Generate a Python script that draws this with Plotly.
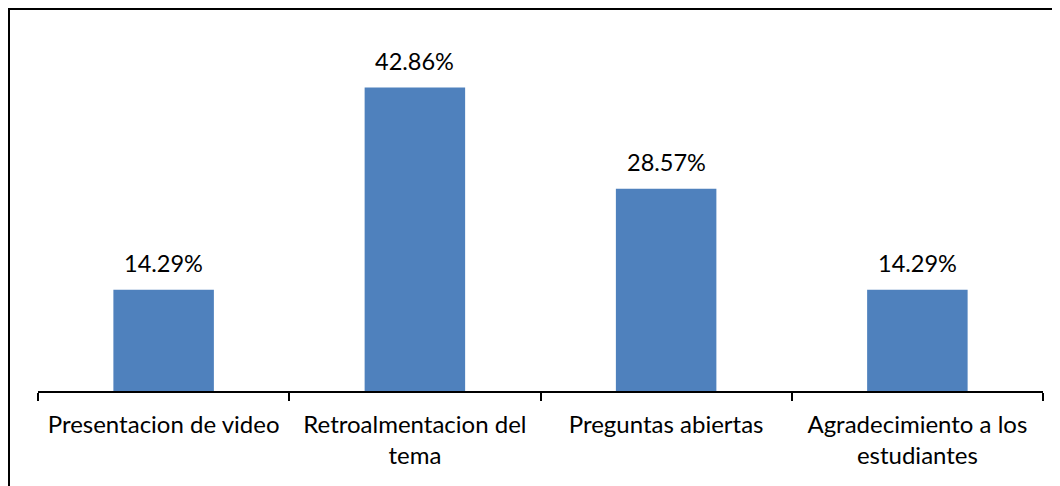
import plotly.graph_objects as go

categories = [
    "Presentacion de video",
    "Retroalmentacion del<br>tema",
    "Preguntas abiertas",
    "Agradecimiento a los<br>estudiantes",
]
values = [14.29, 42.86, 28.57, 14.29]
value_labels = ["14.29%", "42.86%", "28.57%", "14.29%"]

# page body adds an 8px offset, so the figure is shrunk by that amount
W, H = 1052, 478
L, R, T, B = 30, 17, 29, 95
pw, ph = W - L - R, H - T - B
FONT = "Lato"

fig = go.Figure()
fig.add_trace(go.Bar(
    x=categories,
    y=values,
    marker=dict(color="#4F81BD", line=dict(width=0)),
    width=0.4,
    hoverinfo="skip",
))

for c, v, t in zip(categories, values, value_labels):
    fig.add_annotation(
        x=c, y=v, text=t, showarrow=False,
        yanchor="bottom", yshift=11,
        font=dict(size=23.5, color="black", family=FONT),
    )

# outer frame (only top and left edges visible in the crop)
bx = (1 - L) / pw
by = (T + ph - 1) / ph
fig.add_shape(type="rect", xref="paper", yref="paper",
              x0=bx, x1=1.5, y0=-1, y1=by,
              line=dict(color="black", width=2))

fig.update_layout(
    width=W, height=H,
    margin=dict(l=L, r=R, t=T, b=B, pad=0),
    plot_bgcolor="white",
    paper_bgcolor="white",
    showlegend=False,
    font=dict(family=FONT, size=24, color="black"),
)
fig.update_xaxes(
    showline=True, linecolor="black", linewidth=2,
    ticks="outside", ticklen=8, tickwidth=2, tickcolor="black",
    tickson="boundaries", showgrid=False,
    ticklabelstandoff=11,
    tickfont=dict(size=24, color="black", family=FONT),
)
fig.update_yaxes(visible=False, range=[0, 50], showgrid=False)

fig.write_html("out.html")
